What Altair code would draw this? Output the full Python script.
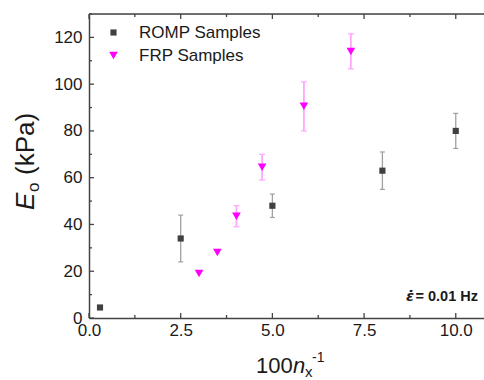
import altair as alt
import pandas as pd

# ---------------- data ----------------
series_names = ["ROMP Samples", "FRP Samples"]
series_colors = ["#404040", "#ff00ff"]
series_shapes = ["square", "triangle-down"]

romp_x = [0.3, 2.5, 5.0, 8.0, 10.0]
romp_y = [4.5, 34.0, 48.0, 63.0, 80.0]
romp_err = [0.0, 10.0, 5.0, 8.0, 7.5]

frp_x = [3.0, 3.5, 4.02, 4.72, 5.86, 7.14]
frp_y = [19.0, 28.0, 43.5, 64.5, 90.5, 114.0]
frp_err = [0.0, 0.0, 4.5, 5.5, 10.5, 7.5]

x_major = [0, 2.5, 5.0, 7.5, 10.0]
x_minor = [1.25, 3.75, 6.25, 8.75]
y_major = [0, 20, 40, 60, 80, 100, 120]
y_minor = [10, 30, 50, 70, 90, 110, 130]

x_title_parts = ["100", "n", "x", "-1"]
y_title_parts = ["E", "o", "(kPa)"]
note_parts = ["\u03b5\u0307", " = 0.01 Hz"]

# ---------------- layout ----------------
W, H = 395, 304
FONT = "Liberation Sans"
AX = "#444444"

rows = []
for s, xs_, ys_, es_ in [(series_names[0], romp_x, romp_y, romp_err),
                         (series_names[1], frp_x, frp_y, frp_err)]:
    for a, b, e in zip(xs_, ys_, es_):
        rows.append({"series": s, "x": a, "y": b, "lo": b - e, "hi": b + e, "err": e})
df = pd.DataFrame(rows)

xscale = alt.Scale(domain=[0, 10.77], nice=False, zero=False)
yscale = alt.Scale(domain=[0, 130], nice=False)
xaxis = alt.Axis(values=x_major, format=".1f", ticks=False, grid=False, labelFlush=False,
                 labelPadding=4, labelFontSize=17, labelFont=FONT, labelColor="#1a1a1a",
                 domainColor=AX, domainWidth=1.5, title=None, labelOverlap=False)
yaxis = alt.Axis(values=y_major, format="d", ticks=False, grid=False, labelFlush=False,
                 labelPadding=7, labelFontSize=17, labelFont=FONT, labelColor="#1a1a1a",
                 domainColor=AX, domainWidth=1.5, title=None, labelOverlap=False)

X = lambda f: alt.X(f, type="quantitative", scale=xscale, axis=xaxis)
Y = lambda f: alt.Y(f, type="quantitative", scale=yscale, axis=yaxis)

err = df[df["err"] > 0]
layers = []
for s, c, cap, sw in [(series_names[0], "#a0a0a0", 5, 1.3), (series_names[1], "#ffa6ff", 6, 1.8)]:
    d = err[err["series"] == s]
    layers.append(alt.Chart(d).mark_rule(color=c, strokeWidth=sw)
                  .encode(x=X("x"), y=Y("lo"), y2="hi"))
    layers.append(alt.Chart(d).mark_tick(orient="horizontal", size=cap, thickness=1.2, color=c, opacity=1)
                  .encode(x=X("x"), y=Y("hi")))
    layers.append(alt.Chart(d).mark_tick(orient="horizontal", size=cap, thickness=1.2, color=c, opacity=1)
                  .encode(x=X("x"), y=Y("lo")))

legend = alt.Legend(orient="none", legendX=16, legendY=10, title=None, labelFontSize=17,
                    labelFont=FONT, labelColor="#1a1a1a", symbolSize=30, labelOffset=17,
                    rowPadding=5, padding=0, symbolStrokeWidth=0)
points = alt.Chart(df).mark_point(filled=True, opacity=1).encode(
    x=X("x"), y=Y("y"),
    color=alt.Color("series:N", scale=alt.Scale(domain=series_names, range=series_colors), legend=legend),
    shape=alt.Shape("series:N", scale=alt.Scale(domain=series_names, range=series_shapes), legend=legend),
    size=alt.Size("series:N", scale=alt.Scale(domain=series_names, range=[38, 75]), legend=None),
)
layers.append(points)

# inward ticks (frame)
def tick_layer(vals, axis, side, length):
    d = pd.DataFrame({"v": vals})
    m = alt.Chart(d).mark_rule(color=AX, strokeWidth=1.3)
    if axis == "x":
        if side == "bottom":
            return m.encode(x=X("v"), y=alt.value(H), y2=alt.value(H - length))
        return m.encode(x=X("v"), y=alt.value(0), y2=alt.value(length))
    return m.encode(y=Y("v"), x=alt.value(0), x2=alt.value(length))

for side in ["bottom", "top"]:
    layers.append(tick_layer(x_major, "x", side, 5))
    layers.append(tick_layer(x_minor, "x", side, 3))
layers.append(tick_layer(y_major, "y", "left", 5))
layers.append(tick_layer(y_minor, "y", "left", 3))

# top frame line
layers.append(alt.Chart(pd.DataFrame({"a": [0]})).mark_rule(color=AX, strokeWidth=1.5)
              .encode(x=alt.value(0), x2=alt.value(W), y=alt.value(0)))

def txt(t, x, y, size, style="normal", weight="normal", angle=0, align="left", font=FONT):
    return alt.Chart(pd.DataFrame({"t": [t]})).mark_text(
        align=align, baseline="alphabetic", fontSize=size, fontStyle=style, fontWeight=weight,
        font=font, angle=angle, color="#1a1a1a"
    ).encode(text="t:N", x=alt.value(x), y=alt.value(y))

# x title
layers.append(txt(x_title_parts[0], 167, 359, 22))
layers.append(txt(x_title_parts[1], 204, 359, 22, style="italic"))
layers.append(txt(x_title_parts[2], 216, 363, 15))
layers.append(txt(x_title_parts[3], 223, 348, 14))
# y title (rotated)
layers.append(txt(y_title_parts[0], -55, 196, 26, style="italic", angle=270))
layers.append(txt(y_title_parts[1], -50, 178, 17, angle=270))
layers.append(txt(y_title_parts[2], -55, 161, 26, angle=270))
# annotation
layers.append(txt(note_parts[1], 389, 287, 14.5, weight="bold", align="right"))
layers.append(txt(note_parts[0], 325, 287, 14.5, style="italic", weight="bold", align="right", font="DejaVu Sans"))

chart = alt.layer(*layers).properties(
    width=W, height=H,
    autosize=alt.AutoSizeParams(type="none"),
    padding={"left": 89, "top": 14, "right": 0, "bottom": 62},
).configure_view(stroke=None).configure(background="white")

chart.save("out.html", embed_options={"renderer": "svg", "actions": False})
